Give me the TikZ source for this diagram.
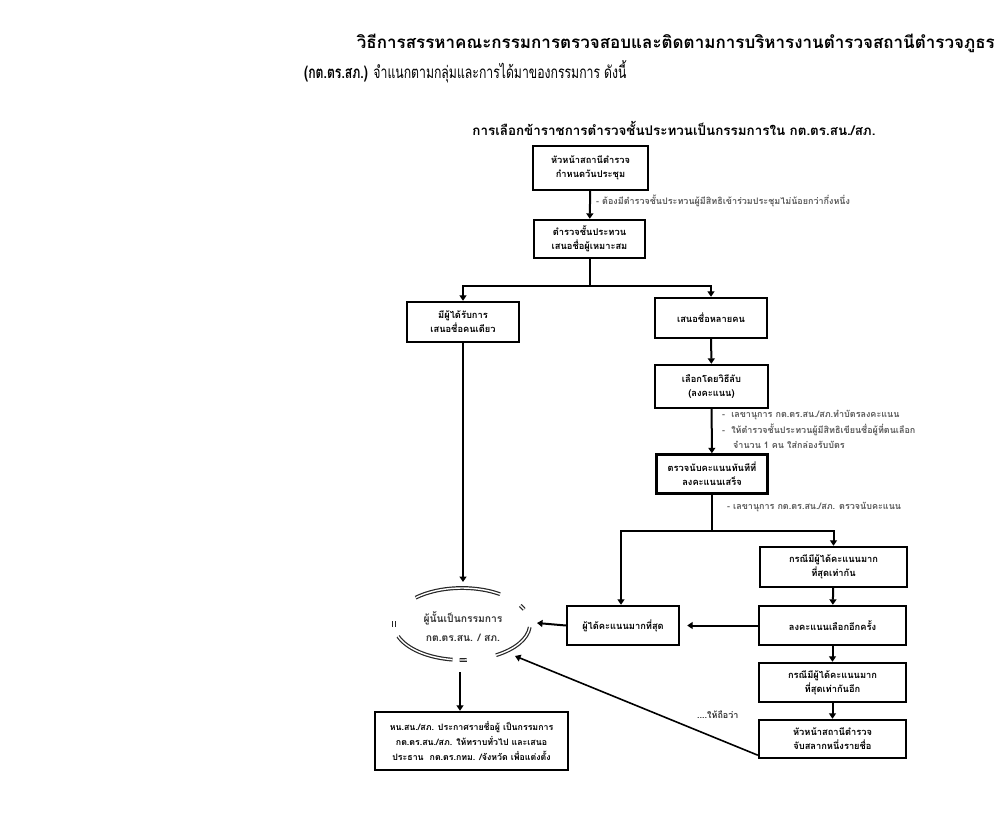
\documentclass[tikz,border=0pt]{standalone}
\usepackage{fontspec}
\setmainfont[Script=Thai]{Loma}
\usetikzlibrary{arrows.meta}
\tikzset{
  box/.style={draw=black, line width=2.4pt, fill=white, align=center, inner sep=1pt,
    font=\fontsize{9.3}{14}\selectfont\bfseries},
  conn/.style={line width=2pt, -{Triangle[width=7pt,length=5.5pt]}},
  plain/.style={line width=2pt},
  note/.style={anchor=west, inner sep=0pt, text=black!65, font=\fontsize{9}{10}\selectfont\bfseries},
  ering/.style={draw=black!85, line width=1.2pt, double=white, double distance=1.4pt}
}
\begin{document}
\begin{tikzpicture}[x=1pt,y=-1pt]
\useasboundingbox (0,0) rectangle (1006,813);
% titles
\node[anchor=east, inner sep=0pt, font=\fontsize{17}{20}\selectfont\bfseries] (t1) at (995,43) {วิธีการสรรหาคณะกรรมการตรวจสอบและติดตามการบริหารงานตำรวจสถานีตำรวจภูธร};
\node[anchor=west, inner sep=0pt, font=\fontsize{17}{20}\selectfont] (t2) at (304,72) {\scalebox{0.72}[1]{\textbf{(กต.ตร.สภ.)} จำแนกตามกลุ่มและการได้มาของกรรมการ ดังนี้}};
\node[inner sep=0pt, font=\fontsize{13.4}{16}\selectfont\bfseries] (t3) at (674,128) {การเลือกข้าราชการตำรวจชั้นประทวนเป็นกรรมการใน กต.ตร.สน./สภ.};
% boxes
\node[box, minimum width=115pt, minimum height=44pt] (b1) at (590.5,168) {หัวหน้าสถานีตำรวจ\\กำหนดวันประชุม};
\node[box, minimum width=111pt, minimum height=38pt] (b2) at (589.5,239) {ตำรวจชั้นประทวน\\เสนอชื่อผู้เหมาะสม};
\node[box, minimum width=112pt, minimum height=40pt] (b3) at (463,322) {มีผู้ได้รับการ\\เสนอชื่อคนเดียว};
\node[box, minimum width=112pt, minimum height=40pt] (b4) at (711,318) {เสนอชื่อหลายคน};
\node[box, minimum width=113pt, minimum height=43pt] (b5) at (711.5,386.5) {เลือกโดยวิธีลับ\\(ลงคะแนน)};
\node[box, minimum width=111pt, minimum height=39pt] (b6) at (712,474) {ตรวจนับคะแนนทันทีที่\\ลงคะแนนเสร็จ};
\node[box, minimum width=147pt, minimum height=40pt] (b7) at (833.5,567) {กรณีมีผู้ได้คะแนนมาก\\ที่สุดเท่ากัน};
\node[box, minimum width=112pt, minimum height=39pt] (b8) at (623,625.5) {ผู้ได้คะแนนมากที่สุด};
\node[box, minimum width=147pt, minimum height=39pt] (b9) at (832.5,625.5) {ลงคะแนนเลือกอีกครั้ง};
\node[box, minimum width=147pt, minimum height=39pt] (b10) at (832.5,682.5) {กรณีมีผู้ได้คะแนนมาก\\ที่สุดเท่ากันอีก};
\node[box, minimum width=147pt, minimum height=38pt] (b11) at (832.5,739) {หัวหน้าสถานีตำรวจ\\จับสลากหนึ่งรายชื่อ};
\node[box, minimum width=193pt, minimum height=58pt, font=\fontsize{8.8}{15}\selectfont\bfseries] (b12) at (471.5,741) {หน.สน./สภ. ประกาศรายชื่อผู้ เป็นกรรมการ\\กต.ตร.สน./สภ. ให้ทราบทั่วไป และเสนอ\\ประธาน~~กต.ตร.กทม. /จังหวัด เพื่อแต่งตั้ง};
% ellipse
\node[align=center, inner sep=0pt, font=\fontsize{10.3}{19}\selectfont\bfseries, text=black!80] (e) at (463,627) {ผู้นั้นเป็นกรรมการ\\กต.ตร.สน. / สภ.};
\coordinate (ec) at (462,624);
\draw[ering] (ec) ++(-56:68 and 36) arc[start angle=-56, end angle=-133, x radius=68, y radius=36];
\draw[ering] (ec) ++(-24:68 and 36) arc[start angle=-24, end angle=-31, x radius=68, y radius=36];
\draw[ering] (ec) ++(5:68 and 36) arc[start angle=5, end angle=60, x radius=68, y radius=36];
\draw[ering] (ec) ++(86:68 and 36) arc[start angle=86, end angle=92, x radius=68, y radius=36];
\draw[ering] (ec) ++(98:68 and 36) arc[start angle=98, end angle=160, x radius=68, y radius=36];
\draw[ering] (ec) ++(176:68 and 36) arc[start angle=176, end angle=184, x radius=68, y radius=36];
\coordinate (eT) at (463,582);
\coordinate (eR) at (537,623);
\coordinate (eB) at (460,672);
\coordinate (eD) at (515,656);
% connectors
\draw[conn] (b1) -- (b2);
\draw[plain] (b2.south) -- (b2.south |- 0,286) coordinate (j1);
\draw[conn] (j1) -| (b3.north);
\draw[conn] (j1) -| (b4.north);
\draw[conn] (b4) -- (b5);
\draw[conn] (b5) -- (b6);
\draw[plain] (b6.south) -- (b6.south |- 0,531) coordinate (j2);
\draw[conn] (j2) -| ([xshift=-2pt]b8.north);
\draw[conn] (j2) -| (b7.north);
\draw[conn] (b7) -- (b9);
\draw[conn] (b9) -- (b10);
\draw[conn] (b10) -- (b11);
\draw[conn, shorten >=7pt] (b9.west) -- (b8.east);
\draw[conn] (b8.west) -- (eR);
\draw[conn] (b3.south) -- (eT);
\draw[conn] (eB) -- (eB |- b12.north);
\draw[conn, line width=1.6pt] ([yshift=4pt]b11.south west) -- (eD);
% notes
\node[note] (n1) at (596,201) {- ต้องมีตำรวจชั้นประทวนผู้มีสิทธิเข้าร่วมประชุมไม่น้อยกว่ากึ่งหนึ่ง};
\node[note] (n2) at (722,415) {-~ เลขานุการ กต.ตร.สน./สภ.ทำบัตรลงคะแนน};
\node[note] (n3) at (722,430) {-~ ให้ตำรวจชั้นประทวนผู้มีสิทธิเขียนชื่อผู้ที่ตนเลือก};
\node[note] (n4) at (733,445) {จำนวน 1 คน ใส่กล่องรับบัตร};
\node[note] (n5) at (727,507) {- เลขานุการ กต.ตร.สน./สภ. ตรวจนับคะแนน};
\node[note, text=black!80] (n6) at (697,715) {....ให้ถือว่า};
\end{tikzpicture}
\end{document}
